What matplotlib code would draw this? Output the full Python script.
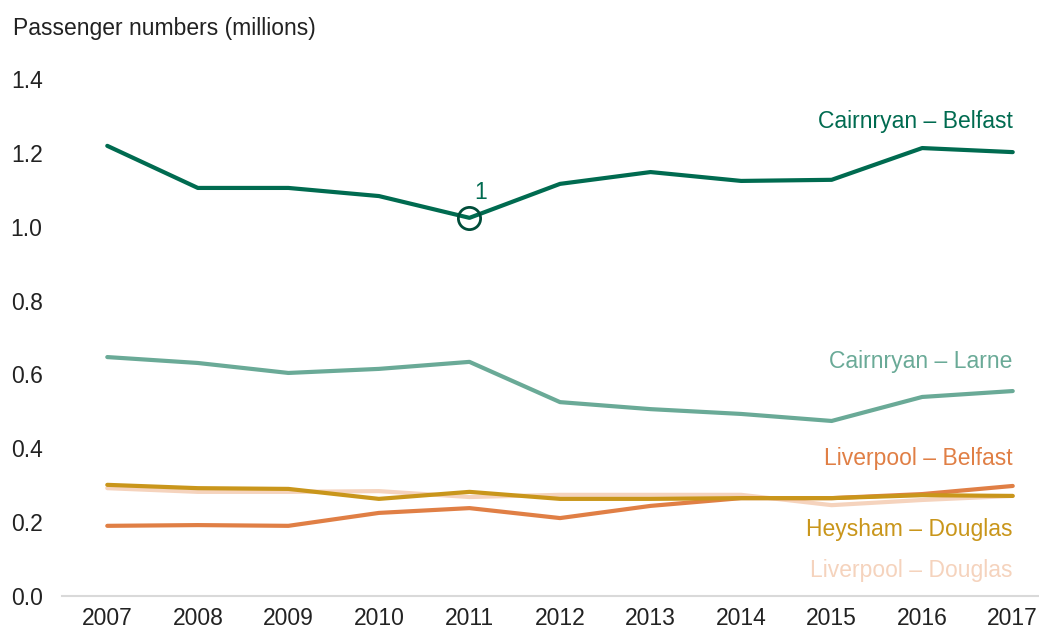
import matplotlib.pyplot as plt

plt.rcParams['font.family'] = ['Liberation Sans', 'DejaVu Sans']

years = [2007, 2008, 2009, 2010, 2011, 2012, 2013, 2014, 2015, 2016, 2017]
cairnryan_belfast = [1.219, 1.105, 1.105, 1.083, 1.024, 1.116, 1.148, 1.124, 1.127, 1.213, 1.202]
cairnryan_larne = [0.647, 0.631, 0.604, 0.615, 0.634, 0.525, 0.506, 0.493, 0.474, 0.539, 0.555]
liverpool_douglas = [0.292, 0.282, 0.282, 0.284, 0.268, 0.274, 0.274, 0.274, 0.246, 0.260, 0.271]
liverpool_belfast = [0.190, 0.192, 0.190, 0.225, 0.238, 0.211, 0.244, 0.265, 0.265, 0.276, 0.298]
heysham_douglas = [0.301, 0.292, 0.290, 0.263, 0.282, 0.263, 0.263, 0.265, 0.265, 0.273, 0.271]

routes = [
    ("Liverpool \u2013 Douglas", liverpool_douglas, "#f5d3bd", 0.068),
    ("Liverpool \u2013 Belfast", liverpool_belfast, "#e07f45", 0.371),
    ("Heysham \u2013 Douglas", heysham_douglas, "#c9961b", 0.181),
    ("Cairnryan \u2013 Larne", cairnryan_larne, "#6aaa97", 0.634),
    ("Cairnryan \u2013 Belfast", cairnryan_belfast, "#006b50", 1.286),
]

fs = 16.5

fig = plt.figure(figsize=(10.39, 6.32), dpi=100)
ax = fig.add_axes([62 / 1039, 1 - 596 / 632, 1 - 62 / 1039, (596 - 79) / 632])

for name, vals, col, ly in routes:
    ax.plot(years, vals, color=col, lw=3, solid_capstyle='round', clip_on=False)
    ax.text(years[-1], ly, name, color=col, fontsize=fs, ha='right', va='center')

# note marker on 2011
ax.plot(years[4], cairnryan_belfast[4], 'o', ms=16, mfc='none', mec='#004d3a', mew=2, clip_on=False)
ax.text(years[4] + 0.12, cairnryan_belfast[4] + 0.05, "1", color='#006b50', fontsize=fs, ha='center')

ax.set_xlim(2006.5, 2017.29)
ax.set_ylim(0, 1.4)
ax.set_xticks(years)
ax.set_yticks([0, 0.2, 0.4, 0.6, 0.8, 1.0, 1.2, 1.4])
ax.set_yticklabels(["0.0", "0.2", "0.4", "0.6", "0.8", "1.0", "1.2", "1.4"])
ax.tick_params(axis='both', length=0, labelsize=fs, colors='#222222')
ax.tick_params(axis='y', pad=14)
ax.tick_params(axis='x', pad=8)
for s in ['left', 'right', 'top']:
    ax.spines[s].set_visible(False)
ax.spines['bottom'].set_color('#d9d9d9')
ax.spines['bottom'].set_linewidth(1.5)

fig.text(13 / 1039, 1 - 28 / 632, "Passenger numbers (millions)", fontsize=fs, color='#222222', va='center')

fig.savefig("out.png", dpi=100)
